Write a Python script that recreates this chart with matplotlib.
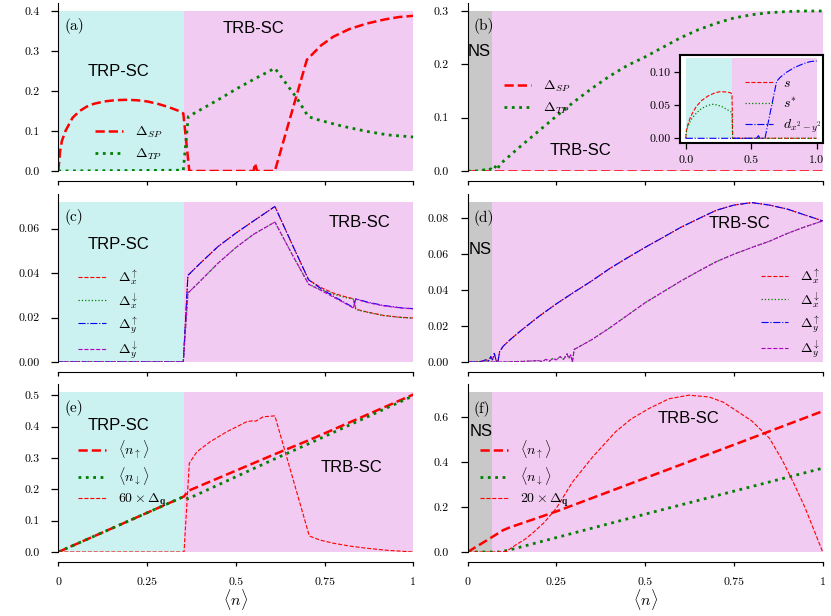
import numpy as np
import matplotlib.pyplot as plt

plt.rcParams['font.family'] = 'serif'
plt.rcParams['font.serif'] = ['cmr10']
plt.rcParams['mathtext.fontset'] = 'cm'
plt.rcParams['axes.formatter.use_mathtext'] = True
plt.rcParams['axes.unicode_minus'] = False

# phase boundaries (density <n>)
trp_edge = 0.354
ns_edge = 0.068

# ---- panel (a): Delta_SP / Delta_TP
x_sp_a = [0, 0.005, 0.01, 0.02, 0.04, 0.06, 0.08, 0.1, 0.13, 0.16, 0.19, 0.22, 0.25, 0.28,
          0.31, 0.34, 0.352, 0.369, 0.55, 0.554, 0.56, 0.61, 0.70, 0.74, 0.775, 0.82, 0.87,
          0.92, 0.96, 1.0]
sp_a = [0, 0.05, 0.075, 0.1, 0.133, 0.15, 0.161, 0.168, 0.174, 0.177, 0.178, 0.177, 0.174,
        0.168, 0.16, 0.15, 0.144, 0.0, 0.0, 0.019, 0.0, 0.0, 0.278, 0.314, 0.336, 0.355,
        0.369, 0.379, 0.385, 0.388]
x_tp_a = [0, 0.352, 0.366, 0.45, 0.503, 0.55, 0.61, 0.672, 0.704, 0.732, 0.8, 0.869, 0.93, 1.0]
tp_a = [0, 0.002, 0.136, 0.178, 0.206, 0.229, 0.257, 0.182, 0.136, 0.128, 0.112, 0.099,
        0.09, 0.085]

# ---- panel (b)
x_sp_b = [0, 1.0]
sp_b = [0, 0]
x_tp_b = [0, 0.02, 0.04, 0.05, 0.055, 0.06, 0.065, 0.07, 0.075, 0.08, 0.085, 0.09, 0.1,
          0.15, 0.2, 0.25, 0.3, 0.35, 0.4, 0.45, 0.5, 0.55, 0.6, 0.65, 0.7, 0.75, 0.8,
          0.85, 0.9, 0.95, 1.0]
tp_b = [0, 0, 0.001, 0.003, 0.001, 0.002, 0.004, 0.001, 0.005, 0.01, 0.004, 0.012, 0.018,
        0.047, 0.075, 0.103, 0.13, 0.155, 0.178, 0.198, 0.214, 0.232, 0.25, 0.265, 0.277,
        0.287, 0.293, 0.297, 0.299, 0.3, 0.3]

# inset of (b): s, s*, d_{x2-y2}
x_s_in = [0, 0.005, 0.015, 0.03, 0.05, 0.08, 0.12, 0.17, 0.22, 0.26, 0.3, 0.34, 0.353, 0.358, 1.0]
s_in = [0, 0.012, 0.02, 0.029, 0.038, 0.048, 0.057, 0.064, 0.0685, 0.0705, 0.0702, 0.069,
        0.067, 0, 0]
x_ss_in = [0, 0.005, 0.015, 0.03, 0.05, 0.08, 0.12, 0.16, 0.2, 0.24, 0.28, 0.32, 0.353, 0.358, 1.0]
ss_in = [0, 0.01, 0.017, 0.024, 0.031, 0.038, 0.045, 0.049, 0.0515, 0.0505, 0.0475, 0.043,
         0.039, 0, 0]
x_d_in = [0, 0.54, 0.555, 0.565, 0.605, 0.694, 0.72, 0.77, 0.83, 0.9, 0.95, 1.0]
d_in = [0, 0, 0.004, 0, 0, 0.086, 0.092, 0.1, 0.107, 0.113, 0.116, 0.117]

# ---- panel (c): bond gaps
x_c = [0, 0.352, 0.365, 0.4, 0.45, 0.5, 0.55, 0.61, 0.66, 0.705, 0.74, 0.775, 0.81, 0.831,
       0.838, 0.87, 0.915, 0.96, 1.0]
dxu_c = [0, 0, 0.039, 0.0445, 0.052, 0.058, 0.0635, 0.070, 0.0525, 0.037, 0.0335, 0.031,
         0.0293, 0.0285, 0.0238, 0.0225, 0.021, 0.0202, 0.0198]
dxd_c = [0, 0, 0.031, 0.0365, 0.0445, 0.0515, 0.0575, 0.063, 0.048, 0.035, 0.0325, 0.0305,
         0.029, 0.0283, 0.0236, 0.0224, 0.0209, 0.0201, 0.0197]
dyu_c = [0, 0, 0.039, 0.0445, 0.052, 0.058, 0.0635, 0.070, 0.0525, 0.037, 0.033, 0.0296,
         0.0265, 0.0245, 0.0285, 0.027, 0.0255, 0.0245, 0.024]
dyd_c = [0, 0, 0.031, 0.0365, 0.0445, 0.0515, 0.0575, 0.063, 0.048, 0.035, 0.0322, 0.0292,
         0.0262, 0.0243, 0.0283, 0.0268, 0.0253, 0.0244, 0.0239]

# ---- panel (d)
x_up_d = [0, 0.02, 0.04, 0.05, 0.06, 0.065, 0.07, 0.075, 0.08, 0.085, 0.09, 0.1, 0.12, 0.15,
          0.2, 0.25, 0.3, 0.35, 0.4, 0.45, 0.5, 0.55, 0.6, 0.65, 0.7, 0.75, 0.8, 0.85, 0.9,
          0.95, 1.0]
up_d = [0, 0, 0.0004, 0.0012, 0.0008, 0.003, 0.0012, 0.0048, 0.0008, 0.0, 0.0058, 0.0088,
        0.0125, 0.0175, 0.0253, 0.0324, 0.0389, 0.0452, 0.052, 0.058, 0.0638, 0.0693,
        0.0749, 0.0797, 0.0844, 0.0873, 0.0887, 0.0873, 0.0851, 0.0818, 0.0785]
x_lo_d = [0, 0.1, 0.15, 0.2, 0.21, 0.22, 0.23, 0.24, 0.25, 0.26, 0.27, 0.28, 0.285, 0.29,
          0.295, 0.3, 0.35, 0.4, 0.45, 0.5, 0.55, 0.6, 0.65, 0.7, 0.75, 0.8, 0.85, 0.9,
          0.95, 1.0]
lo_d = [0, 0, 0.0003, 0.0008, 0.0002, 0.0015, 0.0005, 0.002, 0.0012, 0.003, 0.0015, 0.0045,
        0.002, 0.004, 0.0, 0.007, 0.0125, 0.019, 0.026, 0.033, 0.039, 0.045, 0.0505, 0.0558,
        0.06, 0.0637, 0.0672, 0.0715, 0.0752, 0.0785]

# ---- panel (e): densities and 60 x Delta_q
x_n_e = [0, 0.354, 0.366, 0.61, 0.705, 1.0]
nup_e = [0, 0.177, 0.195, 0.312, 0.356, 0.502]
ndn_e = [0, 0.177, 0.170, 0.297, 0.345, 0.498]
x_q_e = [0, 0.354, 0.369, 0.39, 0.427, 0.474, 0.53, 0.55, 0.556, 0.577, 0.61, 0.707, 0.737,
         0.775, 0.82, 0.869, 0.92, 0.96, 1.0]
q_e = [0, 0, 0.283, 0.319, 0.351, 0.383, 0.415, 0.419, 0.417, 0.431, 0.434, 0.051, 0.038,
       0.028, 0.019, 0.012, 0.006, 0.003, 0.0]

# ---- panel (f): densities and 20 x Delta_q
x_nup_f = [0, 0.05, 0.1, 0.12, 0.15, 0.25, 0.5, 0.75, 1.0]
nup_f = [0, 0.048, 0.097, 0.11, 0.126, 0.18, 0.328, 0.476, 0.625]
x_ndn_f = [0, 0.09, 0.12, 0.5, 1.0]
ndn_f = [0, 0, 0.01, 0.168, 0.372]
x_q_f = [0, 0.08, 0.108, 0.136, 0.16, 0.183, 0.215, 0.25, 0.295, 0.351, 0.417, 0.46, 0.511,
         0.567, 0.623, 0.68, 0.72, 0.75, 0.8, 0.85, 0.886, 0.92, 0.95, 1.0]
q_f = [0, 0, 0.002, 0.032, 0.055, 0.084, 0.13, 0.195, 0.31, 0.42, 0.534, 0.59, 0.637, 0.68,
       0.696, 0.688, 0.665, 0.634, 0.582, 0.505, 0.408, 0.30, 0.198, 0]

xt = [0, 0.25, 0.5, 0.75, 1]
xt_lab = ['0', '0.25', '0.5', '0.75', '1']

cyan = '#cbf1f1'
pink = '#f1cbf1'
grey = '#c8c8c8'
purple = '#b000c8'
sans = 'Liberation Sans'

fig = plt.figure(figsize=(8.31, 6.16), dpi=100)
lefts = [0.0702, 0.5628]
w = 0.4272
bottoms = [0.7224, 0.4123, 0.1039]
h = 0.2727


def make_ax(row, col, top, yt, fmt, grey_ns):
    ax = fig.add_axes([lefts[col], bottoms[row], w, h])
    ax.set_xlim(0, 1)
    ax.set_ylim(0, top * 1.05)
    if grey_ns:
        ax.fill_between([0, ns_edge], 0, top, color=grey, lw=0, zorder=0)
        ax.fill_between([ns_edge, 1], 0, top, color=pink, lw=0, zorder=0)
    else:
        ax.fill_between([0, trp_edge], 0, top, color=cyan, lw=0, zorder=0)
        ax.fill_between([trp_edge, 1], 0, top, color=pink, lw=0, zorder=0)
    for s in ['top', 'right']:
        ax.spines[s].set_visible(False)
    ax.spines['bottom'].set_position(('outward', 7.2))
    ax.set_yticks(yt)
    ax.set_yticklabels([fmt % v for v in yt])
    ax.set_xticks(xt)
    if row == 2:
        ax.set_xticklabels(xt_lab)
        ax.set_xlabel(r'$\langle n \rangle$', fontsize=11.5, labelpad=0.5)
    else:
        ax.set_xticklabels([])
    ax.tick_params(axis='y', direction='out', length=4.7, width=0.9, pad=9, labelsize=8.5)
    ax.tick_params(axis='x', direction='out', length=3, width=0.9, pad=8, labelsize=8.5)
    return ax


def leg(ax, x, y, sp=0.45):
    ax.legend(loc='center left', bbox_to_anchor=(x, y), frameon=False, fontsize=10,
              handlelength=2.0, handletextpad=0.85, labelspacing=sp)


def tag(ax, x, y, s):
    ax.text(x, y, s, transform=ax.transAxes, ha='center', va='center', fontsize=11)


def region(ax, x, y, s):
    ax.text(x, y, s, transform=ax.transAxes, ha='center', va='center', fontsize=12,
            family=sans)


# (a)
ax = make_ax(0, 0, 0.4, [0, 0.1, 0.2, 0.3, 0.4], '%.1f', False)
ax.plot(x_sp_a, sp_a, 'r--', lw=1.8, label=r'$\Delta_{SP}$')
ax.plot(x_tp_a, tp_a, color='g', ls=':', lw=2, label=r'$\Delta_{TP}$')
leg(ax, 0.068, 0.165)
tag(ax, 0.045, 0.864, '(a)')
region(ax, 0.169, 0.591, 'TRP-SC')
region(ax, 0.55, 0.846, 'TRB-SC')

# (b)
ax = make_ax(0, 1, 0.3, [0, 0.1, 0.2, 0.3], '%.1f', True)
ax.plot(x_sp_b, sp_b, 'r--', lw=1.8, label=r'$\Delta_{SP}$')
ax.plot(x_tp_b, tp_b, color='g', ls=':', lw=2, label=r'$\Delta_{TP}$')
leg(ax, 0.066, 0.4375)
tag(ax, 0.0465, 0.864, '(b)')
region(ax, 0.033, 0.711, 'NS')
region(ax, 0.319, 0.125, 'TRB-SC')

# inset
ins = fig.add_axes([0.818, 0.7683, 0.172, 0.1424])
ins.set_xlim(-0.046, 1.046)
ins.set_ylim(-0.0067, 0.126)
ins.fill_between([0, 0.353], 0, 0.121, color=cyan, lw=0, zorder=0)
ins.fill_between([0.353, 1], 0, 0.121, color=pink, lw=0, zorder=0)
ins.plot(x_s_in, s_in, 'r--', lw=0.8, label=r'$s$')
ins.plot(x_ss_in, ss_in, color='g', ls=':', lw=0.9, label=r'$s^{*}$')
ins.plot(x_d_in, d_in, 'b-.', lw=0.8, label=r'$d_{x^2-y^2}$')
for s in ins.spines.values():
    s.set_linewidth(1.5)
ins.set_xticks([0, 0.5, 1.0])
ins.set_xticklabels(['0.0', '0.5', '1.0'])
ins.set_yticks([0, 0.05, 0.10])
ins.set_yticklabels(['0.00', '0.05', '0.10'])
ins.tick_params(axis='x', direction='out', length=4.5, width=0.9, pad=5, labelsize=8.5)
ins.tick_params(axis='y', direction='out', length=4.5, width=0.9, pad=2, labelsize=8.5)
ins.legend(loc='center left', bbox_to_anchor=(0.37, 0.42), frameon=False, fontsize=10,
           handlelength=2.0, handletextpad=0.7, labelspacing=0.5)

# (c)
ax = make_ax(1, 0, 0.072, [0, 0.02, 0.04, 0.06], '%.2f', False)
ax.plot(x_c, dxu_c, 'r--', lw=0.8, label=r'$\Delta_x^{\uparrow}$')
ax.plot(x_c, dxd_c, color='g', ls=':', lw=0.9, label=r'$\Delta_x^{\downarrow}$')
ax.plot(x_c, dyu_c, 'b-.', lw=0.8, label=r'$\Delta_y^{\uparrow}$')
ax.plot(x_c, dyd_c, color=purple, ls='--', lw=0.8, label=r'$\Delta_y^{\downarrow}$')
leg(ax, 0.02, 0.285, sp=0.25)
tag(ax, 0.045, 0.865, '(c)')
region(ax, 0.169, 0.702, 'TRP-SC')
region(ax, 0.848, 0.83, 'TRB-SC')

# (d)
ax = make_ax(1, 1, 0.089, [0, 0.02, 0.04, 0.06, 0.08], '%.2f', True)
ax.plot(x_up_d, up_d, 'r--', lw=0.8, label=r'$\Delta_x^{\uparrow}$')
ax.plot(x_lo_d, lo_d, color='g', ls=':', lw=0.9, label=r'$\Delta_x^{\downarrow}$')
ax.plot(x_up_d, up_d, 'b-.', lw=0.8, label=r'$\Delta_y^{\uparrow}$')
ax.plot(x_lo_d, lo_d, color=purple, ls='--', lw=0.8, label=r'$\Delta_y^{\downarrow}$')
leg(ax, 0.79, 0.29, sp=0.25)
tag(ax, 0.0465, 0.859, '(d)')
region(ax, 0.034, 0.667, 'NS')
region(ax, 0.766, 0.822, 'TRB-SC')

# (e)
ax = make_ax(2, 0, 0.51, [0, 0.1, 0.2, 0.3, 0.4, 0.5], '%.1f', False)
ax.plot(x_n_e, nup_e, 'r--', lw=1.8, label=r'$\langle n_{\uparrow}\rangle$')
ax.plot(x_n_e, ndn_e, color='g', ls=':', lw=2, label=r'$\langle n_{\downarrow}\rangle$')
ax.plot(x_q_e, q_e, 'r--', lw=0.8, label=r'$60\times\Delta_{\mathbf{q}}$')
leg(ax, 0.02, 0.466, sp=0.3)
tag(ax, 0.045, 0.86, '(e)')
region(ax, 0.169, 0.751, 'TRP-SC')
region(ax, 0.826, 0.505, 'TRB-SC')

# (f)
ax = make_ax(2, 1, 0.71, [0, 0.2, 0.4, 0.6], '%.1f', True)
ax.plot(x_nup_f, nup_f, 'r--', lw=1.8, label=r'$\langle n_{\uparrow}\rangle$')
ax.plot(x_ndn_f, ndn_f, color='g', ls=':', lw=2, label=r'$\langle n_{\downarrow}\rangle$')
ax.plot(x_q_f, q_f, 'r--', lw=0.8, label=r'$20\times\Delta_{\mathbf{q}}$')
leg(ax, 0.0, 0.467, sp=0.3)
tag(ax, 0.041, 0.85, '(f)')
region(ax, 0.037, 0.716, 'NS')
region(ax, 0.621, 0.794, 'TRB-SC')

fig.savefig('out.png', dpi=100)
